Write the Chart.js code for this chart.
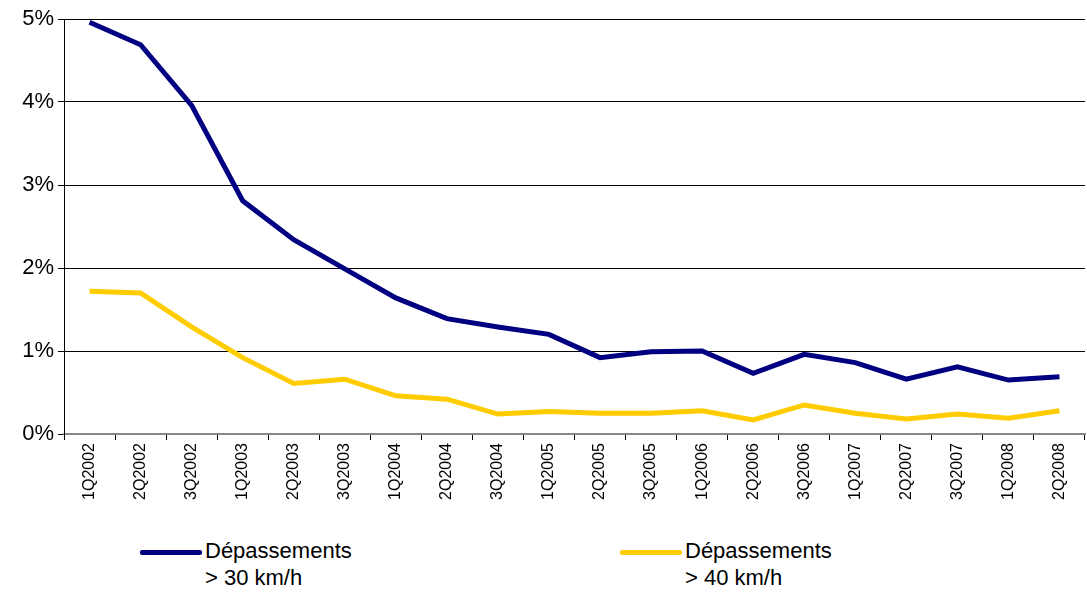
<!DOCTYPE html>
<html>
<head>
<meta charset="utf-8">
<script src="https://cdn.jsdelivr.net/npm/chart.js@4"></script>
<style>
  html, body { margin: 0; padding: 0; background: #fff; }
  #wrap { position: relative; width: 1087px; height: 592px; }
  #chart { position: absolute; left: 0; top: 0; }
  .legend-item { position: absolute; top: 537px; font-family: Arial, "Liberation Sans", sans-serif; font-size: 22px; line-height: 27px; color: #000; }
  .legend-swatch { position: absolute; left: 0; top: 13px; width: 62px; height: 5px; border-radius: 2px; }
  .legend-text { position: absolute; left: 65px; top: 0; white-space: nowrap; }
</style>
</head>
<body>
<div id="wrap">
  <canvas id="chart" width="1087" height="530"></canvas>
  <div id="legend"></div>
</div>
<script>
const quarters = [
  '1Q2002', '2Q2002', '3Q2002', '1Q2003', '2Q2003', '3Q2003', '1Q2004', '2Q2004', '3Q2004', '1Q2005',
  '2Q2005', '3Q2005', '1Q2006', '2Q2006', '3Q2006', '1Q2007', '2Q2007', '3Q2007', '1Q2008', '2Q2008'
];

// % of measurements over the limit
const over30 = [4.96, 4.69, 3.96, 2.81, 2.34, 1.99, 1.64, 1.39, 1.29, 1.20,
  0.92, 0.99, 1.00, 0.73, 0.96, 0.86, 0.66, 0.81, 0.65, 0.69];
const over40 = [1.72, 1.70, 1.29, 0.92, 0.61, 0.66, 0.46, 0.42, 0.24, 0.27,
  0.25, 0.25, 0.28, 0.17, 0.35, 0.25, 0.18, 0.24, 0.19, 0.28];

const seriesNames = [['Dépassements', '> 30 km/h'], ['Dépassements', '> 40 km/h']];
const yTicks = [0, 1, 2, 3, 4, 5];

const fontFamily = 'Arial, "Liberation Sans", sans-serif';

const ctx = document.getElementById('chart').getContext('2d');

const chart = new Chart(ctx, {
  type: 'line',
  data: {
    labels: quarters,
    datasets: [{
      label: seriesNames[0].join(' '),
      data: over30,
      borderColor: '#000080',
      borderWidth: 5,
      pointRadius: 0,
      tension: 0
    }, {
      label: seriesNames[1].join(' '),
      data: over40,
      borderColor: '#FFCC00',
      borderWidth: 5,
      pointRadius: 0,
      tension: 0
    }]
  },
  options: {
    responsive: false,
    animation: false,
    layout: {
      padding: { top: 19, right: 2, left: 0, bottom: 0 }
    },
    scales: {
      x: {
        offset: true,
        grid: {
          offset: true,
          drawOnChartArea: false,
          drawTicks: true,
          tickLength: 6,
          color: '#000'
        },
        border: { color: '#888', width: 2 },
        ticks: {
          minRotation: 90,
          maxRotation: 90,
          autoSkip: false,
          padding: 3,
          color: '#000',
          font: { family: fontFamily, size: 16 }
        },
        afterFit(scale) {
          scale.height = 96;
        }
      },
      y: {
        min: 0,
        max: 5,
        afterBuildTicks(scale) {
          scale.ticks = yTicks.map(v => ({ value: v }));
        },
        grid: {
          color: '#000',
          lineWidth: 1,
          tickLength: 6
        },
        border: { color: '#000', width: 1 },
        ticks: {
          padding: 4,
          color: '#000',
          font: { family: fontFamily, size: 22 },
          callback: v => v + '%'
        },
        afterFit(scale) {
          scale.width = 64;
        }
      }
    },
    plugins: {
      legend: { display: false },
      title: { display: false },
      tooltip: { enabled: false }
    }
  }
});

// html legend below the chart
const legendEl = document.getElementById('legend');
const legendLeft = [140, 620];
chart.data.datasets.forEach((ds, i) => {
  const item = document.createElement('div');
  item.className = 'legend-item';
  item.style.left = legendLeft[i] + 'px';
  item.innerHTML = `
    <div class="legend-swatch" style="background:${ds.borderColor}"></div>
    <div class="legend-text">${seriesNames[i][0]}<br>${seriesNames[i][1]}</div>
  `;
  legendEl.appendChild(item);
});
</script>
</body>
</html>
